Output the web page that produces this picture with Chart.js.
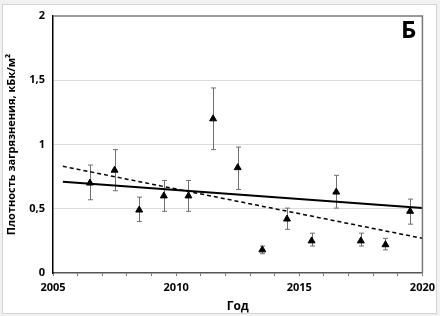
<!DOCTYPE html>
<html>
<head>
<meta charset="utf-8">
<script src="https://cdn.jsdelivr.net/npm/chart.js@4/dist/chart.umd.min.js"></script>
<style>
  html, body { margin: 0; padding: 0; background: #ffffff; }
  #wrap { width: 440px; height: 316px; }
</style>
</head>
<body>
<div id="wrap"><canvas id="myChart" width="440" height="316"></canvas></div>
<script>
// measured values
var years    = [2006.5, 2007.5, 2008.5, 2009.5, 2010.5, 2011.5, 2012.5, 2013.5, 2014.5, 2015.5, 2016.5, 2017.5, 2018.5, 2019.5];
var values   = [0.70, 0.80, 0.49, 0.60, 0.60, 1.20, 0.82, 0.18, 0.42, 0.25, 0.63, 0.25, 0.22, 0.48];
var errLow   = [0.57, 0.64, 0.40, 0.48, 0.48, 0.96, 0.65, 0.15, 0.34, 0.21, 0.505, 0.21, 0.18, 0.38];
var errHigh  = [0.84, 0.96, 0.59, 0.72, 0.72, 1.44, 0.98, 0.21, 0.505, 0.31, 0.76, 0.31, 0.27, 0.575];

// trend lines (start / end)
var trendYears  = [2005.4, 2020];
var solidTrend  = [0.71, 0.505];
var dashedTrend = [0.83, 0.27];

var yTicks = [0, 0.5, 1, 1.5, 2];

var FONT = "'Open Sans', 'DejaVu Sans', sans-serif";

function toPoints(xs, ys) {
  var pts = [];
  for (var i = 0; i < xs.length; i++) {
    pts.push({ x: xs[i], y: ys[i] });
  }
  return pts;
}

// background frame + plot border
var framePlugin = {
  id: "frame",
  beforeDraw: function(chart) {
    var c = chart.ctx;
    c.save();
    c.fillStyle = "#f1f1f1";
    c.fillRect(0, 0, chart.width, chart.height);
    c.fillStyle = "#ffffff";
    c.fillRect(2, 4, 434, 309);
    c.strokeStyle = "#d4d4d4";
    c.lineWidth = 1;
    c.strokeRect(2.5, 4.5, 434, 309);
    c.restore();
  },
  afterDraw: function(chart) {
    var a = chart.chartArea;
    var c = chart.ctx;
    c.save();
    c.strokeStyle = "#7a7a7a";
    c.lineWidth = 1.5;
    c.beginPath();
    c.moveTo(a.left, a.top);
    c.lineTo(a.right, a.top);
    c.lineTo(a.right, a.bottom);
    c.stroke();
    // panel letter
    c.fillStyle = "#000000";
    c.font = "bold 24px " + FONT;
    c.textAlign = "right";
    c.textBaseline = "top";
    c.fillText("Б", a.right - 6, a.top + 3);
    c.restore();
  }
};

// error bars, drawn before the datasets
var errorBarPlugin = {
  id: "errorBars",
  beforeDatasetsDraw: function(chart) {
    var xs = chart.scales.x;
    var ys = chart.scales.y;
    var c = chart.ctx;
    c.save();
    c.strokeStyle = "#6f6f6f";
    c.lineWidth = 1;
    for (var i = 0; i < years.length; i++) {
      var px = Math.round(xs.getPixelForValue(years[i])) + 0.5;
      var top = ys.getPixelForValue(errHigh[i]);
      var bot = ys.getPixelForValue(errLow[i]);
      c.beginPath();
      c.moveTo(px, top);
      c.lineTo(px, bot);
      c.moveTo(px - 2.5, top);
      c.lineTo(px + 2.5, top);
      c.moveTo(px - 2.5, bot);
      c.lineTo(px + 2.5, bot);
      c.stroke();
    }
    c.restore();
  }
};

var ctx = document.getElementById("myChart").getContext("2d");

var myChart = new Chart(ctx, {
  type: "scatter",
  data: {
    datasets: [
      {
        label: "Данные",
        data: toPoints(years, values),
        pointStyle: "triangle",
        pointRadius: 4,
        backgroundColor: "#000000",
        borderColor: "#000000",
        borderWidth: 1,
        order: 1
      },
      {
        label: "Тренд",
        data: toPoints(trendYears, solidTrend),
        type: "line",
        showLine: true,
        borderColor: "#000000",
        borderWidth: 2,
        pointRadius: 0,
        fill: false,
        order: 2
      },
      {
        label: "Тренд 2",
        data: toPoints(trendYears, dashedTrend),
        type: "line",
        showLine: true,
        borderColor: "#000000",
        borderWidth: 1.5,
        borderDash: [4, 3],
        pointRadius: 0,
        fill: false,
        order: 3
      }
    ]
  },
  options: {
    responsive: false,
    animation: false,
    layout: { padding: { top: 16, right: 17, left: 0, bottom: 0 } },
    plugins: {
      legend: { display: false },
      tooltip: { enabled: false }
    },
    scales: {
      x: {
        type: "linear",
        min: 2005,
        max: 2020,
        afterFit: function(axis) { axis.height = 43; },
        border: { color: "#555555", width: 1.5 },
        grid: {
          drawOnChartArea: false,
          drawTicks: true,
          tickLength: 3,
          color: "#777777"
        },
        ticks: {
          stepSize: 1,
          autoSkip: false,
          maxRotation: 0,
          padding: 5,
          color: "#000000",
          font: { family: FONT, size: 11, weight: "bold" },
          callback: function(v) { return v % 5 === 0 ? String(v) : ""; }
        },
        title: {
          display: true,
          text: "Год",
          color: "#000000",
          padding: { top: 2, bottom: 2 },
          font: { family: FONT, size: 12, weight: "bold" }
        }
      },
      y: {
        min: 0,
        max: 2,
        afterFit: function(axis) { axis.width = 53; },
        afterBuildTicks: function(axis) {
          axis.ticks = yTicks.map(function(v) { return { value: v }; });
        },
        border: { color: "#000000", width: 1.5 },
        grid: {
          drawTicks: false,
          color: function(c) { return c.tick.value === 0 || c.tick.value === 2 ? "rgba(0,0,0,0)" : "#dcdcdc"; }
        },
        ticks: {
          padding: 8,
          color: "#000000",
          font: { family: FONT, size: 11, weight: "bold" },
          callback: function(v) { return String(v).replace(".", ","); }
        },
        title: {
          display: true,
          text: "Плотность загрязнения, кБк/м²",
          color: "#000000",
          padding: { top: 5, bottom: 0 },
          font: { family: FONT, size: 11, weight: "bold" }
        }
      }
    }
  },
  plugins: [framePlugin, errorBarPlugin]
});
</script>
</body>
</html>
